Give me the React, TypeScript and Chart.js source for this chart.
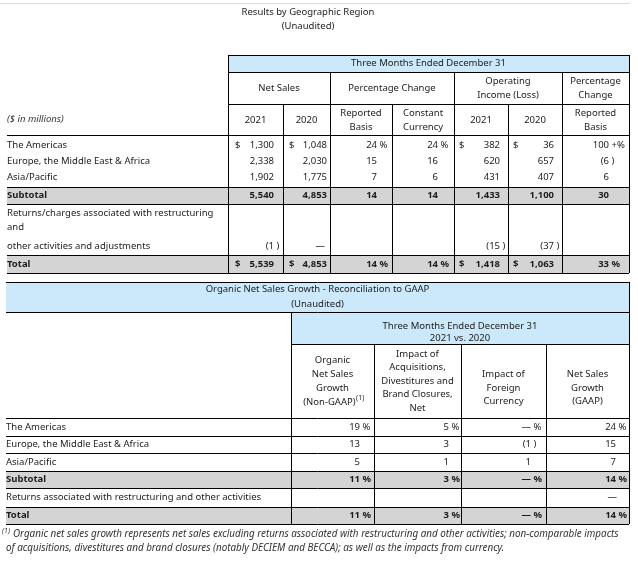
import { useEffect, useRef } from "react";
import { Chart, registerables } from "chart.js";

Chart.register(...registerables);

// ---------- DATA ----------
const title1 = ["Results by Geographic Region", "(Unaudited)"];
const title2 = ["Organic Net Sales Growth - Reconciliation to GAAP", "(Unaudited)"];
const periodLabel = "Three Months Ended December 31";
const periodLabel2 = ["Three Months Ended December 31", "2021 vs. 2020"];
const unitsLabel = "($ in millions)";

const regions = ["The Americas", "Europe, the Middle East & Africa", "Asia/Pacific"];
const netSales2021 = [1300, 2338, 1902];
const netSales2020 = [1048, 2030, 1775];
const reportedBasis = [24, 15, 7];
const constantCurrency = [24, 16, 6];
const opIncome2021 = [382, 620, 431];
const opIncome2020 = [36, 657, 407];
const opIncomeChange = [100, -6, 6];

const subtotalLabel = "Subtotal";
const subtotal1 = [5540, 4853, 14, 14, 1433, 1100, 30];
const adjustmentsLabel = ["Returns/charges associated with restructuring", "and", "other activities and adjustments"];
const adjustments1 = [-1, 0, null, null, -15, -37, null];
const totalLabel = "Total";
const total1 = [5539, 4853, 14, 14, 1418, 1063, 33];

const organicGrowth = [19, 13, 5];
const acquisitionsImpact = [5, 3, 1];
const currencyImpact = [0, -1, 1];
const gaapGrowth = [24, 15, 7];
const subtotal2 = [11, 3, 0, 14];
const returnsLabel2 = "Returns associated with restructuring and other activities";
const returns2 = [null, null, null, 0];
const total2 = [11, 3, 0, 14];

const footnote = [
  "Organic net sales growth represents net sales excluding returns associated with restructuring and other activities; non-comparable impacts",
  "of acquisitions, divestitures and brand closures (notably DECIEM and BECCA); as well as the impacts from currency.",
];

// ---------- LAYOUT / STYLE ----------
const W = 638;
const H = 562;
const FAMILY = '"Noto Sans", "Open Sans", sans-serif';
const SIZE = 9.5;
const TEXT = "#1c1c1c";
const BLUE = "#cce9fb";
const GRAY = "#d4d4d4";

function font(weight: string, style = "normal", size = SIZE) {
  return `${style} ${weight} ${size}px ${FAMILY}`;
}

const tablePlugin = {
  id: "financialTable",
  afterDraw(chart: any) {
    const ctx: CanvasRenderingContext2D = chart.ctx;
    const sx = chart.scales.x;
    const sy = chart.scales.y;
    const X = (v: number) => sx.getPixelForValue(v);
    const Y = (v: number) => sy.getPixelForValue(v);
    const crisp = (p: number) => Math.round(p) + 0.5;

    ctx.save();
    const rect = (x1: number, y1: number, x2: number, y2: number, c: string) => {
      ctx.fillStyle = c;
      ctx.fillRect(X(x1), Y(y1), X(x2) - X(x1), Y(y2) - Y(y1));
    };
    const hline = (x1: number, x2: number, y: number, c = "#000") => {
      ctx.strokeStyle = c;
      ctx.lineWidth = 1;
      ctx.beginPath();
      ctx.moveTo(X(x1), crisp(Y(y)));
      ctx.lineTo(X(x2), crisp(Y(y)));
      ctx.stroke();
    };
    const vline = (x: number, y1: number, y2: number) => {
      ctx.strokeStyle = "#000";
      ctx.lineWidth = 1;
      ctx.beginPath();
      ctx.moveTo(crisp(X(x)), Y(y1));
      ctx.lineTo(crisp(X(x)), Y(y2));
      ctx.stroke();
    };
    const text = (s: string, x: number, y: number, align: CanvasTextAlign = "left", weight = "normal", style = "normal", size = SIZE, color = TEXT) => {
      ctx.font = font(weight, style, size);
      ctx.fillStyle = color;
      ctx.textAlign = align;
      ctx.textBaseline = "middle";
      ctx.fillText(s, X(x), Y(y));
    };
    const digits = (v: number) => (v === 0 ? "\u2014" : Math.abs(v).toLocaleString("en-US"));
    const value = (v: number | null, anchor: number, y: number, suffix: string, weight: string) => {
      if (v === null || v === undefined) return;
      const main = (v < 0 ? "(" : "") + digits(v);
      text(main, anchor, y, "right", weight);
      const suf = v < 0 ? " )" : suffix;
      if (suf) text(suf, anchor, y, "left", weight);
    };

    // top rule
    hline(0, 630, 3, "#dcdcdc");

    // ===== Table 1 =====
    title1.forEach((t, i) => text(t, 308, 12 + i * 14, "center"));

    const L = 7;
    const cx = [228, 283, 330, 392, 454, 508, 562, 629];
    rect(cx[0], 55, cx[7], 72, BLUE);
    rect(L, 187, cx[7], 204, GRAY);
    rect(L, 255, cx[7], 273, GRAY);

    text(periodLabel, (cx[0] + cx[7]) / 2, 63.5, "center");
    text("Net Sales", (cx[0] + cx[2]) / 2, 88, "center");
    text("Percentage Change", (cx[2] + cx[4]) / 2, 88, "center");
    text("Operating", (cx[4] + cx[6]) / 2, 81, "center");
    text("Income (Loss)", (cx[4] + cx[6]) / 2, 95, "center");
    text("Percentage", (cx[6] + cx[7]) / 2, 81, "center");
    text("Change", (cx[6] + cx[7]) / 2, 95, "center");
    const sub = [["2021"], ["2020"], ["Reported", "Basis"], ["Constant", "Currency"], ["2021"], ["2020"], ["Reported", "Basis"]];
    sub.forEach((lines, i) => {
      const mx = (cx[i] + cx[i + 1]) / 2;
      if (lines.length === 1) text(lines[0], mx, 120, "center");
      else lines.forEach((l, j) => text(l, mx, 113 + j * 14, "center"));
    });
    text(unitsLabel, L, 119, "left", "normal", "italic", SIZE, "#333");

    // lines
    hline(cx[0], cx[7], 55);
    hline(cx[0], cx[7], 72);
    hline(cx[0], cx[7], 104);
    [135, 187, 204, 255, 273].forEach((y) => hline(L, cx[7], y));
    vline(cx[0], 55, 273);
    vline(cx[7], 55, 273);
    [cx[2], cx[4], cx[6]].forEach((x) => vline(x, 72, 273));
    [cx[1], cx[3], cx[5]].forEach((x) => vline(x, 104, 273));

    const anchors1 = [274, 327, 377, 438, 500, 554, 609];
    const dollarX = [235, 289, null, null, 459, 513, null];
    const isPct = [false, false, true, true, false, false, true];
    const cols1 = [netSales2021, netSales2020, reportedBasis, constantCurrency, opIncome2021, opIncome2020, opIncomeChange];
    const rowY = [145, 161, 177];
    regions.forEach((r, i) => {
      const y = rowY[i];
      text(r, L, y, "left");
      cols1.forEach((col, c) => {
        let suffix = "";
        if (i === 0 && isPct[c]) suffix = c === 6 ? " +%" : " %";
        value(col[i], anchors1[c], y, suffix, "normal");
        if (i === 0 && dollarX[c] !== null) text("$", dollarX[c] as number, y, "left");
      });
    });
    text(subtotalLabel, L, 195.5, "left", "bold");
    subtotal1.forEach((v, c) => value(v, anchors1[c], 195.5, "", "bold"));
    adjustmentsLabel.forEach((l, j) => text(l, L, [213, 227, 246][j], "left"));
    adjustments1.forEach((v, c) => value(v, anchors1[c] + (v === 0 ? -2 : 0), 246, "", "normal"));
    text(totalLabel, L, 264.5, "left", "bold");
    total1.forEach((v, c) => {
      value(v, anchors1[c], 264.5, isPct[c] ? " %" : "", "bold");
      if (dollarX[c] !== null) text("$", dollarX[c] as number, 264.5, "left", "bold");
    });

    // ===== Table 2 =====
    const L2 = 6;
    const dx = [291, 374, 461, 546, 629];
    rect(L2, 282, dx[4], 312, BLUE);
    rect(dx[0], 312, dx[4], 344, BLUE);
    rect(L2, 471, dx[4], 488, GRAY);
    rect(L2, 507, dx[4], 524, GRAY);

    title2.forEach((t, i) => text(t, 317.5, 289.5 + i * 14.5, "center"));
    periodLabel2.forEach((t, i) => text(t, (dx[0] + dx[4]) / 2, 326 + i * 12, "center"));

    const heads = [
      ["Organic", "Net Sales", "Growth", "(Non-GAAP)"],
      ["Impact of", "Acquisitions,", "Divestitures and", "Brand Closures,", "Net"],
      ["Impact of", "Foreign", "Currency"],
      ["Net Sales", "Growth", "(GAAP)"],
    ];
    heads.forEach((lines, i) => {
      const mx = (dx[i] + dx[i + 1]) / 2;
      const start = lines.length === 5 ? 354 : lines.length === 4 ? 360.5 : 374;
      const step = lines.length === 5 ? 13.5 : 13.8;
      lines.forEach((l, j) => {
        const y = start + j * step;
        if (l === "(Non-GAAP)") {
          ctx.font = font("normal");
          const w1 = ctx.measureText(l).width;
          ctx.font = font("normal", "normal", 7);
          const w2 = ctx.measureText("(1)").width;
          const x0 = mx - (w1 + w2) / 2 + 1;
          text(l, x0, y, "left");
          text("(1)", x0 + w1 + 0.5, y - 4, "left", "normal", "normal", 7);
        } else {
          text(l, mx, y, "center");
        }
      });
    });

    hline(L2, dx[4], 282);
    hline(L2, dx[4], 312);
    hline(dx[0], dx[4], 344);
    [418, 436, 453, 471, 488, 507, 524].forEach((y) => hline(L2, dx[4], y));
    vline(dx[0], 312, 524);
    vline(dx[4], 282, 524);
    [dx[1], dx[2], dx[3]].forEach((x) => vline(x, 344, 524));

    const anchors2 = [360, 449, 531, 616];
    const cols2 = [organicGrowth, acquisitionsImpact, currencyImpact, gaapGrowth];
    const rowY2 = [427, 444.5, 462];
    regions.forEach((r, i) => {
      text(r, L2, rowY2[i], "left");
      cols2.forEach((col, c) => value(col[i], anchors2[c], rowY2[i], i === 0 ? " %" : "", "normal"));
    });
    text(subtotalLabel, L2, 479.5, "left", "bold");
    subtotal2.forEach((v, c) => value(v, anchors2[c], 479.5, " %", "bold"));
    text(returnsLabel2, L2, 497.5, "left");
    returns2.forEach((v, c) => value(v, anchors2[c] + 1, 497.5, "", "normal"));
    text(totalLabel, L2, 515.5, "left", "bold");
    total2.forEach((v, c) => value(v, anchors2[c], 515.5, " %", "bold"));

    // footnote
    text("(1)", 2, 530.5, "left", "normal", "italic", 7, "#333");
    text(footnote[0], 13, 534.5, "left", "normal", "italic", 9.85, "#333");
    text(footnote[1], 6, 548.5, "left", "normal", "italic", 9.85, "#333");

    ctx.restore();
  },
};

export default function App() {
  const ref = useRef<HTMLCanvasElement | null>(null);
  useEffect(() => {
    document.body.style.margin = "0";
    const canvas = ref.current;
    if (!canvas) return;
    const chart = new Chart(canvas, {
      type: "scatter",
      data: { datasets: [{ data: [], pointRadius: 0 }] },
      options: {
        responsive: false,
        animation: false,
        events: [],
        devicePixelRatio: 1,
        layout: { padding: 0 },
        plugins: { legend: { display: false }, tooltip: { enabled: false }, title: { display: false } },
        scales: {
          x: { type: "linear", display: false, min: 0, max: W },
          y: { type: "linear", display: false, min: 0, max: H, reverse: true },
        },
      },
      plugins: [tablePlugin],
    } as any);
    return () => chart.destroy();
  }, []);
  return (
    <div style={{ width: W, height: H, background: "#fff" }}>
      <canvas ref={ref} width={W} height={H} style={{ display: "block" }} />
    </div>
  );
}
